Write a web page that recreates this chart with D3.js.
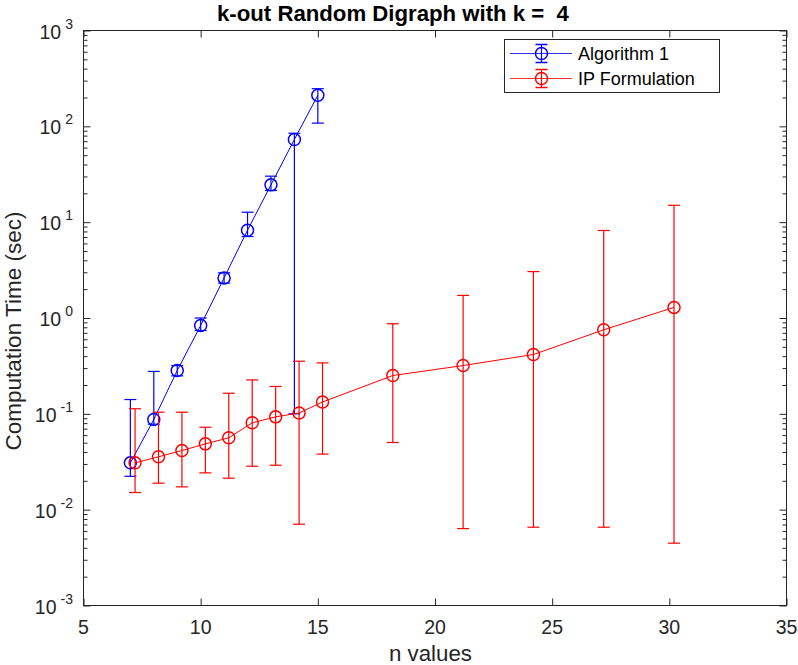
<!DOCTYPE html>
<html>
<head>
<meta charset="utf-8">
<script src="https://cdn.jsdelivr.net/npm/d3@7"></script>
<style>
  html, body { margin: 0; padding: 0; background: #fff; }
  svg { display: block; font-family: "Liberation Sans", Arial, Helvetica, sans-serif; }
  text { white-space: pre; }
</style>
</head>
<body>
<svg id="chart" width="798" height="665"></svg>
<script>
// ---- data ----
const algX    = [7, 8, 9, 10, 11, 12, 13, 14, 15];
const algMean = [0.0308, 0.0873, 0.283, 0.836, 2.62, 8.25, 24.5, 73, 211];
const algLow  = [0.0223, 0.078, 0.249, 0.74, 2.31, 7.08, 21.4, 0.1, 108];
const algHigh = [0.141, 0.277, 0.319, 1.0, 2.96, 12.7, 30.2, 84.7, 247];

const ipX    = [7.2, 8.2, 9.2, 10.2, 11.2, 12.2, 13.2, 14.2, 15.2, 18.2, 21.2, 24.2, 27.2, 30.2];
const ipMean = [0.0308, 0.0356, 0.0414, 0.0486, 0.0562, 0.0806, 0.093, 0.102, 0.133, 0.251, 0.319, 0.416, 0.753, 1.29];
const ipLow  = [0.0151, 0.0189, 0.0173, 0.0242, 0.0213, 0.0284, 0.0291, 0.00705, 0.038, 0.0502, 0.00635, 0.00656, 0.00656, 0.00447];
const ipHigh = [0.113, 0.104, 0.104, 0.0725, 0.164, 0.226, 0.193, 0.354, 0.34, 0.871, 1.72, 3.05, 8.19, 15.0];

const xTicks = [5, 10, 15, 20, 25, 30, 35];
const yExponents = [-3, -2, -1, 0, 1, 2, 3];
const seriesNames = ["Algorithm 1", "IP Formulation"];
const seriesColors = ["#0000ff", "#ff0000"];
const titleText = "k-out Random Digraph with k =  4";
const xLabelText = "n values";
const yLabelText = "Computation Time (sec)";

// ---- layout ----
const svg = d3.select("#chart");
const L = 83.5, R = 786.5, T = 30.5, B = 605.5;
const axisColor = "#262626";

const x = d3.scaleLinear().domain([5, 35]).range([L, R]);
const y = d3.scaleLog().domain([1e-3, 1e3]).range([B, T]);

const majorY = yExponents.map(e => Math.pow(10, e));
const minorY = [];
for (let e = -3; e < 3; e++) for (let m = 2; m <= 9; m++) minorY.push(m * Math.pow(10, e));

function styleAxis(g) {
  g.select(".domain").remove();
  g.selectAll(".tick line").attr("stroke", axisColor).attr("stroke-width", 1);
  g.selectAll("text").remove();
}

// ticks: inward on all four sides
svg.append("g").attr("transform", `translate(${L},0)`)
  .call(d3.axisLeft(y).tickValues(majorY).tickSize(-7).tickFormat("")).call(styleAxis);
svg.append("g").attr("transform", `translate(${L},0)`)
  .call(d3.axisLeft(y).tickValues(minorY).tickSize(-4).tickFormat("")).call(styleAxis);
svg.append("g").attr("transform", `translate(${R},0)`)
  .call(d3.axisRight(y).tickValues(majorY).tickSize(-7).tickFormat("")).call(styleAxis);
svg.append("g").attr("transform", `translate(${R},0)`)
  .call(d3.axisRight(y).tickValues(minorY).tickSize(-4).tickFormat("")).call(styleAxis);
svg.append("g").attr("transform", `translate(0,${B})`)
  .call(d3.axisBottom(x).tickValues(xTicks).tickSize(-7).tickFormat("")).call(styleAxis);
svg.append("g").attr("transform", `translate(0,${T})`)
  .call(d3.axisTop(x).tickValues(xTicks).tickSize(-7).tickFormat("")).call(styleAxis);

// box
svg.append("rect").attr("x", L).attr("y", T).attr("width", R - L).attr("height", B - T)
  .attr("fill", "none").attr("stroke", axisColor).attr("stroke-width", 1);

// x tick labels
svg.append("g").selectAll("text").data(xTicks).join("text")
  .attr("x", d => x(d)).attr("y", B + 28.5)
  .attr("text-anchor", "middle").attr("font-size", 19.5).attr("fill", axisColor)
  .text(d => d);

// y tick labels with superscripts
const yl = svg.append("g").selectAll("text").data(yExponents).join("text")
  .attr("x", 73).attr("y", d => y(Math.pow(10, d)) + 8)
  .attr("text-anchor", "end").attr("fill", axisColor).attr("font-size", 19.5);
yl.append("tspan").text("10");
yl.append("tspan").attr("font-size", 14).attr("dy", -10).attr("dx", 4).text(d => d);

// axis labels & title
svg.append("text").attr("x", 430.5).attr("y", 661)
  .attr("text-anchor", "middle").attr("font-size", 22.3).attr("fill", axisColor).text(xLabelText);
svg.append("text").attr("transform", `translate(21,331) rotate(-90)`)
  .attr("text-anchor", "middle").attr("font-size", 22.5).attr("fill", axisColor).text(yLabelText);
svg.append("text").attr("x", 217).attr("y", 21).attr("xml:space", "preserve")
  .attr("text-anchor", "start").attr("font-size", 22.2).attr("font-weight", "bold").attr("fill", "#000").text(titleText);

// ---- series ----
const series = [
  { xs: algX, m: algMean, lo: algLow, hi: algHigh, color: seriesColors[0] },
  { xs: ipX, m: ipMean, lo: ipLow, hi: ipHigh, color: seriesColors[1] }
];
const cap = 6, rad = 6;
const plot = svg.append("g");
series.forEach(s => {
  const g = plot.append("g");
  const pts = s.xs.map((xv, i) => ({ x: xv, m: s.m[i], lo: s.lo[i], hi: s.hi[i] }));
  g.append("path").datum(pts)
    .attr("d", d3.line().x(d => x(d.x)).y(d => y(d.m)))
    .attr("fill", "none").attr("stroke", s.color).attr("stroke-width", 1);
  const eb = g.selectAll("g.eb").data(pts).join("g").attr("class", "eb")
    .attr("stroke", s.color).attr("stroke-width", 1.2);
  eb.append("line").attr("x1", d => x(d.x)).attr("x2", d => x(d.x))
    .attr("y1", d => y(d.lo)).attr("y2", d => y(d.hi));
  eb.append("line").attr("x1", d => x(d.x) - cap).attr("x2", d => x(d.x) + cap)
    .attr("y1", d => y(d.lo)).attr("y2", d => y(d.lo));
  eb.append("line").attr("x1", d => x(d.x) - cap).attr("x2", d => x(d.x) + cap)
    .attr("y1", d => y(d.hi)).attr("y2", d => y(d.hi));
  g.selectAll("circle").data(pts).join("circle")
    .attr("cx", d => x(d.x)).attr("cy", d => y(d.m)).attr("r", rad)
    .attr("fill", "none").attr("stroke", s.color).attr("stroke-width", 1.5);
});

// ---- legend ----
const lg = svg.append("g");
lg.append("rect").attr("x", 504.5).attr("y", 39.5).attr("width", 215).attr("height", 53)
  .attr("fill", "#fff").attr("stroke", axisColor).attr("stroke-width", 1);
seriesNames.forEach((name, i) => {
  const cy = 53.5 + i * 25;
  const c = seriesColors[i];
  lg.append("line").attr("x1", 510).attr("x2", 572).attr("y1", cy).attr("y2", cy)
    .attr("stroke", c).attr("stroke-width", 1).attr("opacity", 0.8);
  lg.append("line").attr("x1", 541.5).attr("x2", 541.5).attr("y1", cy - 9).attr("y2", cy + 9)
    .attr("stroke", c).attr("stroke-width", 1.2);
  lg.append("line").attr("x1", 535.5).attr("x2", 547.5).attr("y1", cy - 9).attr("y2", cy - 9)
    .attr("stroke", c).attr("stroke-width", 1.5);
  lg.append("line").attr("x1", 535.5).attr("x2", 547.5).attr("y1", cy + 9).attr("y2", cy + 9)
    .attr("stroke", c).attr("stroke-width", 1.5);
  lg.append("circle").attr("cx", 541.5).attr("cy", cy).attr("r", rad)
    .attr("fill", "none").attr("stroke", c).attr("stroke-width", 1.5);
  lg.append("text").attr("x", 578).attr("y", cy + 6.5).attr("font-size", 18)
    .attr("fill", "#000").text(name);
});
</script>
</body>
</html>
